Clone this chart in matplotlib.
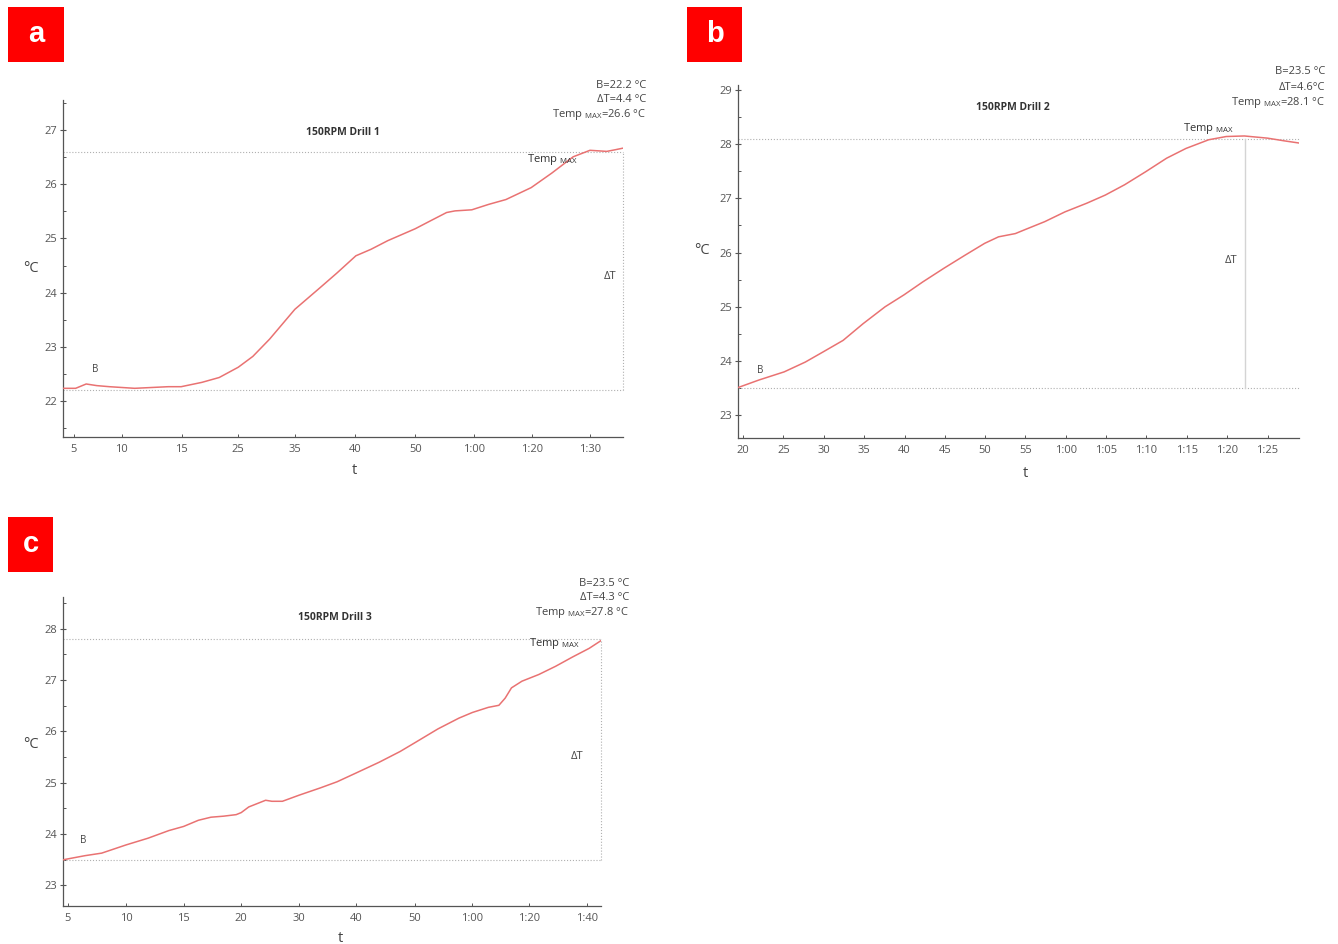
import matplotlib
matplotlib.use("Agg")
import matplotlib.pyplot as plt
from matplotlib.patches import Rectangle
from matplotlib.ticker import MultipleLocator

plt.rcParams['font.family'] = ['Open Sans', 'DejaVu Sans']
plt.rcParams['mathtext.fontset'] = 'custom'
plt.rcParams['mathtext.rm'] = 'Open Sans'
plt.rcParams['mathtext.it'] = 'Open Sans'

# drill 1 -- time axis is in % of the recording window
t1 = [0, 2.26, 4.14, 6.02, 8.28, 12.8, 18.8, 21.1, 24.8, 27.9, 31.3, 33.9, 36.9,
      41.4, 45.9, 48.9, 52.3, 55.0, 58.0, 62.9, 65.5, 68.5, 70.0, 73.0, 76.0,
      79.1, 83.6, 87.3, 91.1, 94.1, 97.1, 98.6, 100]
temp1 = [22.23, 22.23, 22.31, 22.28, 22.26, 22.23, 22.26, 22.26, 22.34, 22.43,
         22.62, 22.82, 23.14, 23.69, 24.09, 24.36, 24.68, 24.80, 24.96, 25.18,
         25.32, 25.48, 25.51, 25.53, 25.63, 25.72, 25.94, 26.21, 26.51, 26.63,
         26.61, 26.64, 26.67]
ticks1 = [1.9, 10.5, 21.2, 31.3, 41.4, 52.2, 62.9, 73.4, 83.7, 94.1]
labels1 = ['5', '10', '15', '25', '35', '40', '50', '1:00', '1:20', '1:30']

# drill 2
t2 = [0, 3.75, 8.24, 11.99, 15.21, 18.73, 22.32, 26.22, 29.59, 32.96, 36.70,
      40.45, 43.97, 46.44, 49.44, 51.09, 54.68, 58.28, 62.17, 65.47, 68.91,
      72.66, 76.40, 79.85, 83.90, 87.04, 90.26, 94.38, 97.38, 100]
temp2 = [23.51, 23.65, 23.80, 23.98, 24.17, 24.38, 24.69, 25.00, 25.22, 25.46,
         25.71, 25.95, 26.17, 26.29, 26.35, 26.42, 26.57, 26.75, 26.91, 27.06,
         27.25, 27.49, 27.74, 27.92, 28.08, 28.14, 28.15, 28.11, 28.06, 28.02]
ticks2 = [0.9, 8.1, 15.3, 22.5, 29.7, 36.9, 44.0, 51.2, 58.4, 65.6, 72.8, 80.0,
          87.2, 94.4]
labels2 = ['20', '25', '30', '35', '40', '45', '50', '55', '1:00', '1:05',
           '1:10', '1:15', '1:20', '1:25']

# drill 3
t3 = [0, 4.06, 7.19, 11.72, 15.78, 19.69, 22.42, 25.16, 27.5, 29.84, 32.19,
      33.13, 34.53, 37.66, 38.83, 40.78, 43.91, 47.81, 50.94, 54.45, 58.75,
      62.66, 65.39, 69.69, 73.59, 76.09, 79.06, 81.02, 82.19, 83.36, 85.31,
      88.44, 91.56, 94.69, 97.81, 100]
temp3 = [23.50, 23.58, 23.63, 23.79, 23.92, 24.07, 24.15, 24.27, 24.33, 24.35,
         24.38, 24.42, 24.53, 24.66, 24.64, 24.64, 24.76, 24.90, 25.02, 25.19,
         25.40, 25.61, 25.78, 26.05, 26.26, 26.37, 26.47, 26.51, 26.65, 26.85,
         26.98, 27.11, 27.27, 27.45, 27.62, 27.77]
ticks3 = [0.9, 11.7, 22.4, 33.1, 43.9, 54.5, 65.4, 76.1, 86.6, 97.4]
labels3 = ['5', '10', '15', '20', '30', '40', '50', '1:00', '1:20', '1:40']

# baseline, rise and where the max is marked
base = [22.2, 23.5, 23.5]
delta = [4.4, 4.6, 4.3]
t_peak = [100, 90.3, 100]

LINE = '#e97272'
GREY = '#555555'


def draw_panel(ax, t, temp, ticks, labels, ylim, yticks, B, dT, tp, solid_vline,
               title, title_pos, b_pos, tmax_pos, dt_pos):
    tmax = B + dT
    ax.plot(t, temp, color=LINE, lw=1.1, zorder=3)
    ax.plot([0, 100], [tmax, tmax], ls=':', color='#b0b0b0', lw=0.8, clip_on=False)
    ax.plot([0, 100], [B, B], ls=':', color='#b0b0b0', lw=0.8, clip_on=False)
    if solid_vline:
        ax.plot([tp, tp], [B, tmax], color='#d4d4d4', lw=1.0)
    else:
        ax.plot([tp, tp], [B, tmax], ls=':', color='#b0b0b0', lw=0.8,
                clip_on=False)

    ax.set_xlim(0, 100)
    ax.set_ylim(*ylim)
    ax.set_xticks(ticks)
    ax.set_xticklabels(labels)
    ax.set_yticks(yticks)
    ax.yaxis.set_minor_locator(MultipleLocator(0.5))
    for s in ['top', 'right']:
        ax.spines[s].set_visible(False)
    for s in ['left', 'bottom']:
        ax.spines[s].set_color(GREY)
        ax.spines[s].set_linewidth(0.9)
    ax.tick_params(axis='y', which='major', direction='inout', length=5,
                   width=0.8, colors=GREY, labelsize=8, pad=2)
    ax.tick_params(axis='y', which='minor', direction='in', length=2.5,
                   width=0.7, color=GREY)
    ax.tick_params(axis='x', direction='in', length=2.5, width=0.7,
                   colors=GREY, labelsize=8, pad=5)

    ax.text(title_pos[0], title_pos[1], title, ha='center', va='center',
            fontsize=7.5, fontweight='bold', color='#333333')
    ax.text(b_pos[0], b_pos[1], 'B', ha='center', va='center', fontsize=7,
            color='#444444')
    ax.text(tmax_pos[0], tmax_pos[1], r'Temp $_{\mathrm{MAX}}$', ha='left',
            va='center', fontsize=8, color='#333333')
    ax.text(dt_pos[0], dt_pos[1], 'ΔT', ha='center', va='center', fontsize=8,
            color='#444444')


fig = plt.figure(figsize=(13.38, 9.44), dpi=100)
W, H = 1338, 944


def fig_axes(left, top, right, bottom):
    return fig.add_axes([left / W, 1 - bottom / H, (right - left) / W,
                         (bottom - top) / H])


ax_a = fig_axes(63, 100, 623, 437)
draw_panel(ax_a, t1, temp1, ticks1, labels1, (21.33, 27.56), [22, 23, 24, 25, 26, 27],
           base[0], delta[0], t_peak[0], False, '150RPM Drill 1', (50, 26.95),
           (5.8, 22.57), (82.8, 26.46), (97.7, 24.29))

ax_b = fig_axes(738, 85, 1299, 438)
draw_panel(ax_b, t2, temp2, ticks2, labels2, (22.58, 29.09),
           [23, 24, 25, 26, 27, 28, 29], base[1], delta[1], t_peak[1], True,
           '150RPM Drill 2', (49, 28.67), (4.0, 23.82), (79.4, 28.29),
           (87.9, 25.85))

ax_c = fig_axes(63, 597, 601, 906)
draw_panel(ax_c, t3, temp3, ticks3, labels3, (22.60, 28.62), [23, 24, 25, 26, 27, 28],
           base[2], delta[2], t_peak[2], False, '150RPM Drill 3', (50.5, 28.23),
           (3.8, 23.87), (86.7, 27.71), (95.6, 25.52))

# axis labels
for x, y in [(31, 268), (702, 250), (31, 745)]:
    fig.text(x / W, 1 - y / H, '°C', ha='center', va='center', fontsize=10.5,
             color='#444444')
for x, y in [(354, 471), (1025, 473), (340, 938)]:
    fig.text(x / W, 1 - y / H, 't', ha='center', va='center', fontsize=10.5,
             color='#444444')

# summary text in the top right of each panel
summaries = [
    (646, [85, 100, 114], base[0], delta[0], '{:.1f} °C'),
    (1325, [72, 87, 103], base[1], delta[1], '{:.1f}°C'),
    (629, [584, 598, 612], base[2], delta[2], '{:.1f} °C'),
]
for x, ys, B, dT, fmt in summaries:
    lines = ['B={:.1f} °C'.format(B), 'ΔT=' + fmt.format(dT),
             r'Temp $_{\mathrm{MAX}}$=' + '{:.1f} °C'.format(B + dT)]
    for y, s in zip(ys, lines):
        fig.text(x / W, 1 - y / H, s, ha='right', va='center', fontsize=8,
                 color='#444444')

# panel letters
for (x0, y0, x1, y1), letter in [((8, 7, 64, 62), 'a'), ((687, 7, 742, 62), 'b'),
                                 ((8, 517, 53, 572), 'c')]:
    fig.patches.append(Rectangle((x0 / W, 1 - y1 / H), (x1 - x0) / W,
                                 (y1 - y0) / H, transform=fig.transFigure,
                                 facecolor='#ff0000', edgecolor='none'))
    fig.text((x0 + x1) / 2 / W, 1 - (y0 + y1) / 2 / H, letter, ha='center',
             va='center', fontsize=21, fontweight='bold', color='white',
             family='Liberation Sans')

fig.savefig('out.png', dpi=100)
